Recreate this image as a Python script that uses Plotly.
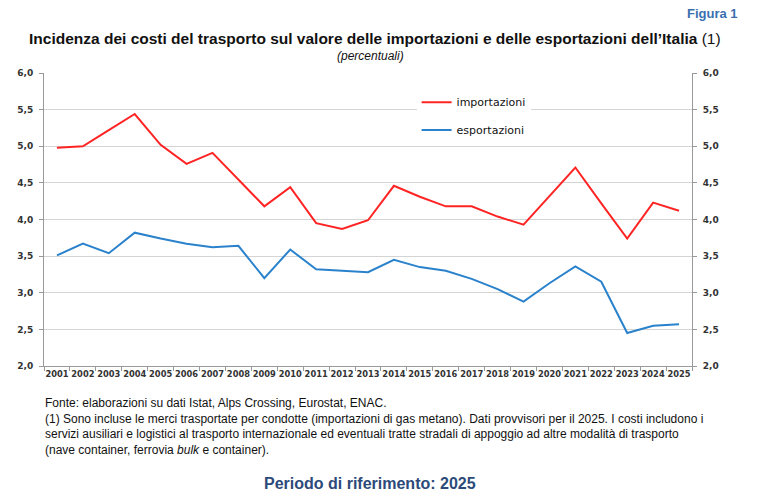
import plotly.graph_objects as go

years = [str(y) for y in range(2001, 2026)]
importazioni = [4.98, 5.00, 5.22, 5.44, 5.02, 4.76, 4.91, 4.54, 4.18, 4.44, 3.95, 3.87, 3.99, 4.46,
                4.31, 4.18, 4.18, 4.04, 3.93, 4.32, 4.71, 4.22, 3.74, 4.23, 4.12]
esportazioni = [3.51, 3.67, 3.54, 3.82, 3.74, 3.67, 3.62, 3.64, 3.20, 3.59, 3.32, 3.30, 3.28, 3.45,
                3.35, 3.30, 3.19, 3.05, 2.88, 3.13, 3.36, 3.15, 2.45, 2.55, 2.57]
y_ticks = [2.0, 2.5, 3.0, 3.5, 4.0, 4.5, 5.0, 5.5, 6.0]

RED = "#ff2424"
BLUE = "#2a82cc"
NARROW = "Liberation Sans Narrow, Arial Narrow, Liberation Sans, Arial, sans-serif"
XTICKF = dict(family="DejaVu Sans, Verdana, sans-serif", size=8.3, color="#333333", weight="bold")
YTICKF = dict(family="DejaVu Sans, Verdana, sans-serif", size=9, color="#333333", weight="bold")

fig = go.Figure()
fig.add_trace(go.Scatter(x=years, y=importazioni, mode="lines", name="importazioni",
                         line=dict(color=RED, width=2), legend="legend"))
fig.add_trace(go.Scatter(x=years, y=esportazioni, mode="lines", name="esportazioni",
                         line=dict(color=BLUE, width=2), legend="legend2"))
# invisible trace to show right axis
fig.add_trace(go.Scatter(x=years, y=esportazioni, mode="lines", yaxis="y2", showlegend=False,
                         line=dict(width=0), hoverinfo="skip", opacity=0))

legfont = dict(family="DejaVu Sans, Verdana, sans-serif", size=11, color="#111111")
fig.update_layout(
    width=768, height=495,
    paper_bgcolor="white", plot_bgcolor="white",
    separators=",.",
    margin=dict(l=44, r=76, t=73, b=129),
    showlegend=True,
    legend=dict(x=0.575, y=0.95, xanchor="left", yanchor="top", bgcolor="white",
                font=legfont, borderwidth=0, itemwidth=30, entrywidth=120),
    legend2=dict(x=0.575, y=0.855, xanchor="left", yanchor="top", bgcolor="rgba(0,0,0,0)",
                 font=legfont, borderwidth=0, itemwidth=30),
    xaxis=dict(type="category", range=[-0.5, len(years) - 0.5], tickson="boundaries",
               ticks="outside", ticklen=4,
               tickcolor="#999999", showline=True, linecolor="#999999", linewidth=1,
               showgrid=False, tickfont=XTICKF, tickangle=0, fixedrange=True),
    yaxis=dict(range=[2, 6], tickvals=y_ticks, tickformat=".1f", ticks="outside", ticklen=4,
               tickcolor="#999999", showline=True, linecolor="#999999", showgrid=True,
               gridcolor="#d4d4d4", gridwidth=1, zeroline=False, tickfont=YTICKF,
               ticklabelstandoff=4),
    yaxis2=dict(range=[2, 6], tickvals=y_ticks, tickformat=".1f", ticks="outside", ticklen=4,
                tickcolor="#999999", showline=True, linecolor="#999999", showgrid=False,
                overlaying="y", side="right", zeroline=False, tickfont=YTICKF,
                ticklabelstandoff=4),
)

fig.add_annotation(text="<b>Figura 1</b>", xref="paper", yref="paper", x=(740-44)/648, y=(366-15)/292,
                   xanchor="right", yanchor="middle", showarrow=False,
                   font=dict(family=NARROW, size=13, color="#3a6fb0"))
fig.add_annotation(text="<b>Incidenza dei costi del trasporto sul valore delle importazioni e delle esportazioni dell’Italia</b> (1)",
                   xref="paper", yref="paper", x=(375-44)/648, y=(366-40)/292,
                   xanchor="center", yanchor="middle", showarrow=False,
                   font=dict(family=NARROW, size=15.5, color="#111111"))
fig.add_annotation(text="<i>(percentuali)</i>", xref="paper", yref="paper", x=(370-44)/648, y=(366-57)/292,
                   xanchor="center", yanchor="middle", showarrow=False,
                   font=dict(family=NARROW, size=12, color="#111111"))
foot = ("Fonte: elaborazioni su dati Istat, Alps Crossing, Eurostat, ENAC.<br>"
        "(1) Sono incluse le merci trasportate per condotte (importazioni di gas metano). Dati provvisori per il 2025. I costi includono i<br>"
        "servizi ausiliari e logistici al trasporto internazionale ed eventuali tratte stradali di appoggio ad altre modalità di trasporto<br>"
        "(nave container, ferrovia <i>bulk</i> e container).")
fig.add_annotation(text=foot, xref="paper", yref="paper", x=(43-44)/648, y=(366-394)/292,
                   xanchor="left", yanchor="top", align="left", showarrow=False,
                   font=dict(family=NARROW, size=12, color="#111111"))
fig.add_annotation(text="<b>Periodo di riferimento: 2025</b>", xref="paper", yref="paper",
                   x=(370-44)/648, y=(366-483)/292, xanchor="center", yanchor="middle", showarrow=False,
                   font=dict(family=NARROW, size=16, color="#2c4a7a"))

fig.write_html("out.html")
